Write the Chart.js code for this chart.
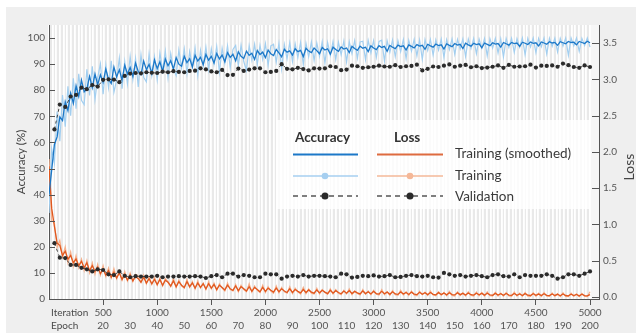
<!DOCTYPE html>
<html>
<head>
<meta charset="utf-8">
<script src="https://cdn.jsdelivr.net/npm/chart.js@4.4.1/dist/chart.umd.min.js"></script>
<style>
body { margin: 0; background: #fff; font-family: Lato, sans-serif; }
#wrap { position: relative; width: 636px; height: 333px; overflow: hidden; }
#panel { position: absolute; left: 6px; top: 7px; right: 0; bottom: 0; background: #efefef; }
#box { position: absolute; left: 0; top: 0; width: 636px; height: 333px; }
.lab { position: absolute; color: #4a4a4a; font-size: 10px; line-height: 12px; }
#legend { position: absolute; left: 277px; top: 120px; width: 313px; height: 89px; background: rgba(255,255,255,0.82); }
#legend div { position: absolute; font-size: 13.5px; line-height: 16px; color: #3a3a3a; white-space: nowrap; }
#legend .head { font-weight: bold; color: #333; }
#legend svg { position: absolute; left: 0; top: 0; }
#lossTitle { position: absolute; left: 628px; top: 167px; transform: translate(-50%, -50%) rotate(-90deg); font-size: 14px; color: #444; }
</style>
</head>
<body>
<div id="wrap">
  <div id="panel"></div>
  <div id="box"><canvas id="myChart"></canvas></div>
  <div class="lab" style="left:51px; top:306px;">Iteration</div>
  <div class="lab" style="left:51px; top:319px;">Epoch</div>
  <div id="lossTitle">Loss</div>
  <div id="legend">
    <svg width="313" height="89">
      <line x1="16" y1="34.5" x2="81" y2="34.5" stroke="#1c78c8" stroke-width="2"/>
      <line x1="100" y1="34.5" x2="166" y2="34.5" stroke="#de6b3f" stroke-width="2"/>
      <line x1="16" y1="56" x2="81" y2="56" stroke="#a6cff0" stroke-width="1.5"/>
      <circle cx="48" cy="56" r="3.3" fill="#a6cff0"/>
      <line x1="100" y1="56" x2="166" y2="56" stroke="#f5b898" stroke-width="1.5"/>
      <circle cx="133" cy="56" r="3.3" fill="#f5b898"/>
      <line x1="16" y1="76" x2="81" y2="76" stroke="#555" stroke-width="1.5" stroke-dasharray="5,4"/>
      <circle cx="48" cy="76" r="3.5" fill="#2a2a2a"/>
      <line x1="100" y1="76" x2="166" y2="76" stroke="#555" stroke-width="1.5" stroke-dasharray="5,4"/>
      <circle cx="133" cy="76" r="3.5" fill="#2a2a2a"/>
    </svg>
    <div class="head" style="left:18px; top:9px;">Accuracy</div>
    <div class="head" style="left:117px; top:9px;">Loss</div>
    <div style="left:178px; top:25px;">Training (smoothed)</div>
    <div style="left:178px; top:47px;">Training</div>
    <div style="left:178px; top:68px;">Validation</div>
  </div>
</div>
<script>
// axis ticks
var iterTicks = [500, 1000, 1500, 2000, 2500, 3000, 3500, 4000, 4500, 5000];
var epochTicks = [20, 30, 40, 50, 60, 70, 80, 90, 100, 110, 120, 130, 140, 150, 160, 170, 180, 190, 200];
var accTicks = [0, 10, 20, 30, 40, 50, 60, 70, 80, 90, 100];
var lossTicks = [0, 0.5, 1, 1.5, 2, 2.5, 3, 3.5];

var trainStep = 25;   // iterations between training points
var valStep = 50;     // iterations between validation points
var lastIter = 5000;
var itersPerEpoch = 25;

// training accuracy, raw (every 25 iterations)
var accRaw = [
  33.0, 57.5, 52.0, 71.8, 60.5, 78.2, 66.0, 81.5, 70.2, 84.6, 72.9, 86.3, 76.1, 74.5, 88.0, 78.0, 89.2, 76.4, 84.8, 90.1,
  78.5, 89.7, 81.0, 91.3, 79.2, 84.0, 92.4, 80.6, 91.0, 82.5, 93.0, 84.1, 92.2, 81.3, 93.6, 85.0, 83.2, 94.0, 85.6, 92.9,
  84.0, 94.3, 87.5, 95.0, 84.8, 94.1, 88.0, 85.6, 95.4, 88.6, 95.9, 86.4, 94.8, 89.0, 96.2, 85.7, 95.3, 89.4, 96.5, 87.8,
  95.9, 90.0, 96.8, 86.9, 96.1, 90.3, 97.0, 88.7, 95.6, 97.2, 89.5, 97.3, 91.0, 87.6, 97.1, 91.5, 97.6, 89.9, 97.2, 91.8,
  97.9, 89.6, 97.0, 97.6, 90.8, 98.0, 88.2, 97.5, 92.0, 98.2, 91.0, 97.8, 92.5, 98.3, 89.8, 98.0, 92.8, 98.5, 91.4, 98.1,
  93.0, 98.6, 90.5, 98.3, 93.4, 98.7, 91.8, 98.4, 93.6, 98.9, 90.9, 98.6, 94.0, 99.0, 92.3, 98.5, 98.8, 91.7, 99.1, 94.3,
  99.0, 92.6, 98.7, 99.2, 91.2, 98.9, 94.5, 99.3, 92.9, 99.0, 94.8, 99.4, 92.1, 99.1, 95.0, 99.5, 93.2, 99.2, 91.8, 99.4,
  95.2, 99.5, 93.5, 99.3, 95.4, 99.6, 92.6, 99.4, 95.6, 99.7, 93.8, 99.5, 95.8, 99.7, 92.9, 99.6, 96.0, 99.8, 94.0, 99.6,
  96.1, 99.8, 93.2, 99.7, 96.2, 99.9, 94.3, 99.7, 92.8, 99.8, 96.4, 99.9, 94.5, 99.8, 96.5, 100.0, 93.6, 99.9, 96.6, 100.0,
  94.4, 99.9, 96.7, 100.0, 93.9, 99.9, 96.8, 100.0, 94.7, 99.9, 96.9, 100.0, 93.4, 100.0, 97.0, 100.0, 94.9, 99.9, 97.1, 100.0,
  96.5
];

// training accuracy, smoothed
var accSmooth = [
  40.0, 49.5, 59.2, 62.1, 69.8, 68.4, 75.6, 72.2, 78.9, 75.0, 81.7, 77.6, 83.9, 79.4, 80.6, 85.3, 81.0, 86.2, 82.1, 85.9,
  83.0, 88.1, 84.2, 82.6, 88.9, 85.1, 87.8, 84.0, 89.6, 86.2, 88.7, 85.3, 90.4, 87.1, 86.0, 91.2, 87.9, 89.9, 86.4, 91.6,
  88.3, 90.9, 87.2, 92.0, 89.4, 91.3, 88.1, 92.5, 90.0, 89.2, 93.0, 90.6, 92.1, 88.9, 93.4, 91.2, 92.6, 89.8, 93.7, 91.5,
  93.0, 90.4, 94.1, 92.0, 93.5, 90.9, 94.4, 92.6, 93.8, 91.3, 94.7, 93.0, 92.2, 95.0, 93.4, 94.2, 91.8, 95.2, 93.7, 94.6,
  92.5, 95.4, 94.0, 93.3, 95.6, 94.3, 92.8, 95.7, 94.6, 95.1, 93.5, 95.9, 94.8, 95.3, 92.9, 96.1, 95.0, 94.4, 96.2, 95.2,
  94.0, 96.4, 95.4, 95.9, 93.8, 96.5, 95.6, 94.9, 96.6, 95.8, 96.2, 94.4, 96.8, 96.0, 95.3, 96.9, 96.1, 96.5, 94.8, 97.0,
  96.2, 95.6, 97.1, 96.4, 96.8, 94.9, 97.2, 96.5, 95.9, 97.3, 96.7, 97.0, 95.4, 97.4, 96.8, 96.2, 97.5, 96.9, 97.2, 95.7,
  97.6, 97.0, 96.5, 97.7, 97.1, 97.4, 95.8, 97.8, 97.2, 96.7, 97.9, 97.3, 97.6, 96.0, 98.0, 97.4, 96.9, 98.0, 97.5, 97.8,
  96.3, 98.1, 97.6, 97.1, 98.2, 97.7, 97.9, 96.5, 98.3, 97.8, 97.3, 98.3, 97.9, 98.1, 96.8, 98.4, 98.0, 97.5, 98.5, 98.0,
  98.2, 97.0, 98.5, 98.1, 97.6, 98.6, 98.1, 98.3, 97.2, 98.6, 98.2, 97.8, 98.7, 98.3, 98.4, 97.4, 98.7, 98.3, 97.9, 98.8,
  98.2
];

// validation accuracy (every 50 iterations, from 50)
var accVal = [
  65.0, 74.5, 73.6, 77.6, 78.2, 81.0, 80.4, 82.0, 81.4, 84.0, 84.2, 84.1, 83.1, 85.5, 86.4, 86.6, 86.5, 86.9, 86.7, 86.6,
  87.1, 86.9, 87.3, 87.0, 86.9, 87.4, 87.5, 88.4, 88.0, 87.2, 86.9, 87.8, 85.8, 85.9, 88.3, 87.4, 87.9, 88.4, 88.4, 86.9,
  87.0, 87.4, 90.0, 88.2, 88.0, 88.6, 88.1, 87.6, 88.4, 88.3, 88.4, 89.2, 88.9, 87.7, 87.9, 89.4, 89.2, 88.6, 88.8, 89.0,
  89.4, 89.1, 89.0, 89.6, 88.9, 89.2, 89.3, 89.8, 87.6, 88.2, 89.1, 88.9, 89.4, 89.9, 89.0, 89.4, 89.7, 88.8, 89.2, 88.5,
  88.7, 89.0, 89.5, 88.6, 89.7, 89.0, 89.1, 89.2, 89.8, 88.7, 89.4, 89.3, 89.5, 89.0, 90.2, 89.6, 88.9, 88.6, 89.5, 88.9
];

// training loss, raw
var lossRaw = [
  1.90, 1.05, 1.02, 0.68, 0.78, 0.55, 0.69, 0.47, 0.62, 0.42, 0.57, 0.40, 0.52, 0.36, 0.50, 0.33, 0.47, 0.31, 0.45, 0.30,
  0.43, 0.28, 0.40, 0.26, 0.39, 0.25, 0.36, 0.23, 0.35, 0.22, 0.33, 0.21, 0.31, 0.29, 0.20, 0.30, 0.18, 0.28, 0.17, 0.27,
  0.16, 0.26, 0.15, 0.25, 0.21, 0.14, 0.26, 0.13, 0.23, 0.15, 0.12, 0.24, 0.13, 0.21, 0.11, 0.22, 0.12, 0.19, 0.10, 0.21,
  0.11, 0.19, 0.09, 0.18, 0.12, 0.08, 0.19, 0.10, 0.08, 0.17, 0.07, 0.16, 0.10, 0.07, 0.18, 0.065, 0.15, 0.09, 0.06, 0.16,
  0.06, 0.14, 0.08, 0.05, 0.15, 0.055, 0.13, 0.07, 0.05, 0.14, 0.045, 0.12, 0.07, 0.04, 0.13, 0.045, 0.11, 0.05, 0.04, 0.12,
  0.04, 0.10, 0.06, 0.035, 0.11, 0.04, 0.10, 0.05, 0.03, 0.09, 0.04, 0.11, 0.03, 0.08, 0.045, 0.025, 0.10, 0.035, 0.08, 0.03,
  0.09, 0.035, 0.025, 0.10, 0.03, 0.07, 0.02, 0.085, 0.03, 0.02, 0.09, 0.025, 0.07, 0.02, 0.08, 0.025, 0.015, 0.075, 0.03, 0.065,
  0.02, 0.08, 0.025, 0.015, 0.07, 0.02, 0.06, 0.015, 0.075, 0.02, 0.012, 0.07, 0.018, 0.055, 0.01, 0.068, 0.02, 0.012, 0.065, 0.015,
  0.06, 0.01, 0.07, 0.015, 0.01, 0.062, 0.012, 0.05, 0.008, 0.06, 0.012, 0.007, 0.065, 0.01, 0.05, 0.006, 0.058, 0.01, 0.006, 0.055,
  0.008, 0.05, 0.005, 0.06, 0.008, 0.005, 0.052, 0.007, 0.045, 0.004, 0.055, 0.006, 0.004, 0.05, 0.006, 0.04, 0.003, 0.048, 0.005, 0.004,
  0.07
];

// training loss, smoothed
var lossSmooth = [
  1.80, 1.22, 0.97, 0.74, 0.71, 0.57, 0.63, 0.52, 0.57, 0.47, 0.52, 0.43, 0.49, 0.40, 0.47, 0.36, 0.43, 0.35, 0.41, 0.32,
  0.38, 0.30, 0.36, 0.27, 0.34, 0.26, 0.33, 0.24, 0.31, 0.23, 0.30, 0.22, 0.28, 0.25, 0.20, 0.27, 0.19, 0.25, 0.18, 0.24,
  0.17, 0.24, 0.16, 0.23, 0.20, 0.15, 0.22, 0.14, 0.21, 0.16, 0.13, 0.21, 0.14, 0.19, 0.12, 0.19, 0.13, 0.18, 0.11, 0.18,
  0.12, 0.17, 0.10, 0.16, 0.13, 0.095, 0.16, 0.11, 0.09, 0.15, 0.085, 0.14, 0.11, 0.08, 0.14, 0.075, 0.13, 0.10, 0.07, 0.13,
  0.075, 0.12, 0.09, 0.065, 0.12, 0.07, 0.11, 0.08, 0.06, 0.11, 0.06, 0.10, 0.075, 0.055, 0.10, 0.06, 0.095, 0.065, 0.05, 0.095,
  0.055, 0.09, 0.065, 0.045, 0.09, 0.05, 0.085, 0.06, 0.042, 0.08, 0.05, 0.085, 0.045, 0.075, 0.055, 0.04, 0.08, 0.045, 0.07, 0.04,
  0.075, 0.045, 0.038, 0.076, 0.042, 0.065, 0.035, 0.07, 0.04, 0.034, 0.068, 0.038, 0.06, 0.032, 0.065, 0.038, 0.03, 0.062, 0.036, 0.056,
  0.03, 0.06, 0.034, 0.028, 0.058, 0.032, 0.052, 0.027, 0.056, 0.031, 0.026, 0.055, 0.03, 0.048, 0.025, 0.053, 0.029, 0.024, 0.05, 0.027,
  0.048, 0.023, 0.05, 0.027, 0.022, 0.048, 0.025, 0.042, 0.021, 0.046, 0.024, 0.02, 0.046, 0.022, 0.04, 0.019, 0.044, 0.022, 0.018, 0.042,
  0.02, 0.038, 0.017, 0.042, 0.02, 0.016, 0.04, 0.019, 0.035, 0.015, 0.039, 0.018, 0.014, 0.037, 0.017, 0.032, 0.013, 0.036, 0.016, 0.012,
  0.03
];

// validation loss
var lossVal = [
  0.74, 0.54, 0.535, 0.44, 0.44, 0.40, 0.38, 0.35, 0.38, 0.37, 0.31, 0.30, 0.35, 0.29, 0.27, 0.285, 0.28, 0.28, 0.28, 0.29,
  0.27, 0.28, 0.28, 0.285, 0.28, 0.28, 0.285, 0.28, 0.26, 0.285, 0.30, 0.27, 0.32, 0.32, 0.28, 0.30, 0.29, 0.27, 0.27, 0.32,
  0.31, 0.31, 0.25, 0.28, 0.29, 0.28, 0.30, 0.28, 0.29, 0.29, 0.285, 0.28, 0.27, 0.32, 0.31, 0.265, 0.275, 0.29, 0.285, 0.295,
  0.28, 0.285, 0.30, 0.27, 0.275, 0.29, 0.30, 0.285, 0.28, 0.29, 0.27, 0.265, 0.33, 0.31, 0.29, 0.30, 0.28, 0.29, 0.30, 0.285,
  0.27, 0.30, 0.31, 0.285, 0.28, 0.31, 0.27, 0.30, 0.29, 0.29, 0.29, 0.31, 0.29, 0.25, 0.27, 0.31, 0.31, 0.29, 0.32, 0.35
];

function toPoints(values, step, start) {
  var pts = [];
  for (var i = 0; i < values.length; i++) {
    pts.push({ x: start + i * step, y: values[i] });
  }
  return pts;
}

var xMax = 5083;
var tickFont = { family: "Lato", size: 10 };
var tickColor = "#555";

// background + stripes end at the last iteration, inward y ticks
var decor = {
  id: "decor",
  beforeDraw: function (chart) {
    var ctx = chart.ctx;
    var a = chart.chartArea;
    var xEnd = chart.scales.x.getPixelForValue(lastIter);
    ctx.save();
    ctx.fillStyle = "#f6f6f6";
    ctx.fillRect(a.left, a.top, a.right - a.left, a.bottom - a.top);
    ctx.fillStyle = "#e9e9e9";
    ctx.fillRect(a.left, a.top, xEnd - a.left, a.bottom - a.top);
    ctx.restore();
  },
  afterDraw: function (chart) {
    var ctx = chart.ctx;
    var a = chart.chartArea;
    ctx.save();
    ctx.strokeStyle = "#555";
    ctx.lineWidth = 1;
    ctx.beginPath();
    chart.scales.y.ticks.forEach(function (t) {
      var p = Math.round(chart.scales.y.getPixelForValue(t.value)) + 0.5;
      ctx.moveTo(a.left, p);
      ctx.lineTo(a.left + 6, p);
    });
    chart.scales.y1.ticks.forEach(function (t) {
      var p = Math.round(chart.scales.y1.getPixelForValue(t.value)) + 0.5;
      ctx.moveTo(a.right - 7, p);
      ctx.lineTo(a.right, p);
    });
    ctx.stroke();
    ctx.restore();
  }
};

const ctx = document.getElementById("myChart");

new Chart(ctx, {
  type: "line",
  data: {
    datasets: [
      {
        data: toPoints(accVal, valStep, valStep),
        yAxisID: "y",
        borderColor: "#444",
        borderWidth: 1,
        borderDash: [3, 3],
        pointRadius: 2.1,
        pointBackgroundColor: "#2b2b2b",
        pointBorderWidth: 0,
        order: 0
      },
      {
        data: toPoints(lossVal, valStep, valStep),
        yAxisID: "y1",
        borderColor: "#444",
        borderWidth: 1,
        borderDash: [3, 3],
        pointRadius: 2.1,
        pointBackgroundColor: "#2b2b2b",
        pointBorderWidth: 0,
        order: 0
      },
      {
        data: toPoints(accSmooth, trainStep, 0),
        yAxisID: "y",
        borderColor: "#1c78c8",
        borderWidth: 1.3,
        pointRadius: 0,
        order: 1
      },
      {
        data: toPoints(lossSmooth, trainStep, 0),
        yAxisID: "y1",
        borderColor: "#e0581f",
        borderWidth: 1.3,
        pointRadius: 0,
        order: 1
      },
      {
        data: toPoints(accRaw, trainStep, 0),
        yAxisID: "y",
        borderColor: "#a3cff0",
        borderWidth: 1.2,
        pointRadius: 0,
        order: 2
      },
      {
        data: toPoints(lossRaw, trainStep, 0),
        yAxisID: "y1",
        borderColor: "#f6b08c",
        borderWidth: 1.2,
        pointRadius: 0,
        order: 2
      }
    ]
  },
  options: {
    responsive: true,
    maintainAspectRatio: false,
    animation: false,
    events: [],
    layout: { padding: { top: 25, bottom: 2, left: 0, right: 0 } },
    plugins: { legend: { display: false }, tooltip: { enabled: false } },
    scales: {
      stripes: {
        type: "linear",
        position: "top",
        min: 0,
        max: xMax,
        afterFit: function (s) { s.height = 0; },
        ticks: { display: false, stepSize: 34 },
        border: { display: false },
        grid: {
          drawTicks: false,
          lineWidth: 1.8,
          color: function (c) { return c.tick && c.tick.value > lastIter ? "rgba(0,0,0,0)" : "#ffffff"; }
        }
      },
      x: {
        type: "linear",
        position: "bottom",
        min: 0,
        max: xMax,
        // one tick per labelled epoch; the iteration line is filled only every 500
        afterBuildTicks: function (s) {
          s.ticks = epochTicks.map(function (e) { return { value: e * itersPerEpoch }; });
        },
        afterFit: function (s) { s.height = 32; },
        ticks: {
          font: { family: "Lato", size: 10, lineHeight: 1.3 },
          color: tickColor, padding: 1, maxRotation: 0, autoSkip: false,
          callback: function (v) {
            var it = iterTicks.indexOf(v) >= 0 ? String(v) : "";
            return [it, String(v / itersPerEpoch)];
          }
        },
        border: { display: true, color: "#555", width: 1 },
        grid: {
          drawOnChartArea: false, drawTicks: true, tickLength: 6,
          tickColor: function (c) { return c.tick && iterTicks.indexOf(c.tick.value) >= 0 ? "#555" : "rgba(0,0,0,0)"; }
        }
      },
      y: {
        type: "linear",
        position: "left",
        min: 0,
        max: 105,
        afterBuildTicks: function (s) { s.ticks = accTicks.map(function (v) { return { value: v }; }); },
        afterFit: function (s) { s.width = 49; },
        ticks: { font: tickFont, color: tickColor, padding: 4, callback: function (v) { return String(v); } },
        border: { display: true, color: "#555", width: 1 },
        grid: { drawOnChartArea: false, drawTicks: false },
        title: {
          display: true,
          text: "Accuracy (%)",
          color: "#444",
          font: { family: "Lato", size: 11.5 },
          padding: { top: 14, bottom: 0 }
        }
      },
      y1: {
        type: "linear",
        position: "right",
        min: -0.03,
        max: 3.75,
        afterBuildTicks: function (s) { s.ticks = lossTicks.map(function (v) { return { value: v }; }); },
        afterFit: function (s) { s.width = 37; },
        ticks: { font: tickFont, color: tickColor, padding: 4, callback: function (v) { return v.toFixed(1); } },
        border: { display: true, color: "#555", width: 1 },
        grid: { drawOnChartArea: false, drawTicks: false }
      }
    }
  },
  plugins: [decor]
});
</script>
</body>
</html>
